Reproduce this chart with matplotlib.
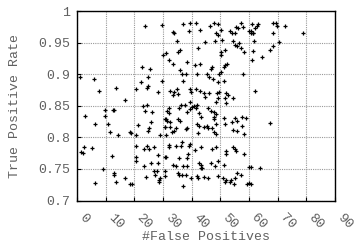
import matplotlib
matplotlib.use("Agg")
import matplotlib.pyplot as plt

# points (false positives, true positive rate)
fp = [
    23.8, 29.7, 30.0, 22.6, 25.3, 0.9, 6.0, 24.9, 22.2, 29.7, 7.6, 13.5, 20.6, 24.4, 24.8,
    28.3, 16.9, 22.9, 24.4,
    23.8, 26.2, 9.9, 12.6, 12.8, 2.9, 9.9, 30.8, 6.4, 10.8, 21.3, 25.8, 25.2, 24.7, 30.7,
    11.4, 14.3, 18.6, 18.8, 20.5, 29.1, 30.9, 2.3, 5.2, 1.4, 2.0, 20.6, 24.4, 23.3, 25.0,
    26.7, 12.3, 20.6, 20.5, 30.8, 28.3, 23.3, 25.9, 28.4, 9.1, 12.8, 12.9, 26.7, 27.9,
    30.8, 24.0, 27.1, 29.1, 28.6, 28.7, 16.9, 13.6, 6.2, 18.4, 19.3, 30.8,
    33.4, 33.7, 37.0, 39.3, 41.6, 39.1, 42.8, 46.3, 47.8, 49.3, 48.6, 49.0, 50.1, 53.3,
    54.2, 55.1, 55.6, 56.2, 57.1, 57.9, 60.0, 60.6, 34.8, 44.5, 48.0, 50.7, 54.4, 55.1,
    55.8, 56.5, 57.1, 58.3, 31.0, 35.8, 35.2, 42.3, 51.6, 50.1, 50.3, 32.0, 33.3, 38.3,
    41.2, 42.8, 52.2, 51.7, 51.3, 50.2, 49.5, 46.9, 46.6, 35.9, 36.7, 37.9, 57.9, 45.2,
    46.0, 42.0, 37.1, 47.4, 49.0, 51.3, 35.0, 32.3, 33.8, 33.3, 35.2, 39.4, 39.9, 41.6,
    42.9, 44.3, 46.1, 44.5, 48.7, 49.5, 49.2, 51.9, 52.5, 51.6, 54.5, 39.4, 48.4, 37.6,
    36.2, 42.0, 51.9,
    60.9, 62.1, 62.9, 63.2, 60.7, 61.2, 61.5, 68.5, 69.3, 69.6, 72.5, 68.5, 78.7, 61.7,
    70.6, 68.3, 67.3, 61.3, 64.4, 60.9, 62.1,
    32.0, 31.3, 32.1, 35.6, 38.5, 39.3, 40.2, 40.8, 41.4, 42.6, 43.4, 46.6, 47.8, 48.4,
    47.6, 47.8, 45.8, 51.3, 55.1, 57.4, 58.8, 55.7, 54.2, 30.9, 31.5, 32.3, 35.2, 35.8,
    30.8, 32.4, 34.6, 33.8, 33.2, 37.9, 38.5, 42.0, 42.6, 44.3, 45.2, 45.8, 47.0, 48.4,
    47.8, 48.4, 42.3, 51.6, 54.4, 55.7, 57.7, 58.3, 32.1, 32.1, 34.4, 36.2, 36.7, 39.4,
    39.1, 43.1, 41.2, 47.2, 48.4, 51.9, 52.1, 54.4, 55.1, 55.3, 58.3, 30.9, 35.6, 38.5,
    38.7, 33.3, 34.6, 37.1, 38.3, 42.6, 43.1, 43.1, 43.7, 46.6, 48.1, 49.3, 51.3, 60.0,
    35.2, 35.6, 36.7, 37.9, 39.7, 42.0, 42.3, 44.3, 45.8, 49.3, 51.0, 52.1, 51.5, 53.3,
    53.6, 55.1, 54.8, 55.7, 57.3, 37.1, 59.4,
    67.3, 63.8, 60.7, 60.7, 60.0,
]
tpr = [
    0.9765, 0.9786, 0.931, 0.911, 0.909, 0.895, 0.893, 0.896, 0.887, 0.889, 0.874, 0.879,
    0.876, 0.879, 0.881, 0.872, 0.859, 0.850, 0.852,
    0.842, 0.840, 0.843, 0.843, 0.844, 0.834, 0.834, 0.829, 0.822, 0.822, 0.819, 0.825,
    0.815, 0.810, 0.817, 0.809, 0.803, 0.808, 0.807, 0.803, 0.804, 0.803, 0.784, 0.783,
    0.777, 0.775, 0.786, 0.786, 0.781, 0.782, 0.784, 0.770, 0.769, 0.763, 0.769, 0.772,
    0.755, 0.759, 0.759, 0.750, 0.743, 0.740, 0.747, 0.747, 0.747, 0.738, 0.740, 0.735,
    0.733, 0.730, 0.736, 0.730, 0.728, 0.726, 0.726, 0.739,
    0.967, 0.965, 0.980, 0.981, 0.982, 0.969, 0.970, 0.977, 0.981, 0.980, 0.965, 0.963,
    0.970, 0.968, 0.966, 0.965, 0.975, 0.974, 0.982, 0.975, 0.969, 0.965, 0.953, 0.951,
    0.953, 0.954, 0.953, 0.946, 0.945, 0.949, 0.942, 0.935, 0.934, 0.938, 0.935, 0.941,
    0.938, 0.936, 0.930, 0.922, 0.917, 0.920, 0.915, 0.917, 0.917, 0.914, 0.912, 0.904,
    0.901, 0.911, 0.908, 0.907, 0.901, 0.900, 0.901, 0.901, 0.896, 0.901, 0.890, 0.893,
    0.887, 0.889, 0.877, 0.873, 0.872, 0.867, 0.868, 0.876, 0.872, 0.876, 0.873, 0.871,
    0.871, 0.864, 0.870, 0.872, 0.863, 0.871, 0.867, 0.863, 0.862, 0.856, 0.856, 0.852,
    0.851, 0.852, 0.854,
    0.979, 0.974, 0.977, 0.980, 0.969, 0.966, 0.965, 0.981, 0.981, 0.977, 0.977, 0.966,
    0.965, 0.953, 0.951, 0.945, 0.938, 0.937, 0.928, 0.923, 0.873,
    0.847, 0.842, 0.839, 0.847, 0.841, 0.845, 0.848, 0.850, 0.847, 0.838, 0.833, 0.842,
    0.840, 0.837, 0.833, 0.829, 0.846, 0.830, 0.831, 0.833, 0.830, 0.826, 0.824, 0.829,
    0.826, 0.825, 0.829, 0.826, 0.817, 0.817, 0.815, 0.810, 0.809, 0.814, 0.815, 0.821,
    0.818, 0.816, 0.818, 0.815, 0.815, 0.821, 0.808, 0.806, 0.807, 0.821, 0.811, 0.810,
    0.818, 0.805, 0.788, 0.785, 0.786, 0.787, 0.792, 0.789, 0.786, 0.785, 0.780, 0.781,
    0.784, 0.779, 0.774, 0.785, 0.781, 0.779, 0.773, 0.769, 0.767, 0.768, 0.773, 0.757,
    0.755, 0.755, 0.755, 0.759, 0.756, 0.751, 0.752, 0.759, 0.755, 0.763, 0.756, 0.753,
    0.744, 0.740, 0.740, 0.740, 0.736, 0.739, 0.736, 0.737, 0.736, 0.739, 0.736, 0.733,
    0.729, 0.729, 0.733, 0.735, 0.726, 0.744, 0.740, 0.723, 0.726,
    0.823, 0.751, 0.753, 0.726, 0.727,
]

xticks = list(range(0, 100, 10))
yticks = [0.7, 0.75, 0.8, 0.85, 0.9, 0.95, 1.0]
ylabels = ["0.7", "0.75", "0.8", "0.85", "0.9", "0.95", "1"]

plt.rcParams['font.family'] = ['Liberation Mono', 'DejaVu Sans Mono']
gray = '#606060'

fig = plt.figure(figsize=(3.55, 2.48), dpi=100)
ax = fig.add_axes([0.217, 0.1915, 0.727, 0.7635])

ax.plot(fp, tpr, '+', color='black', markersize=3.5, markeredgewidth=0.9)

ax.set_xlim(0, 90)
ax.set_ylim(0.7, 1.0)
ax.set_xticks(xticks)
ax.set_xticklabels([str(t) for t in xticks], rotation=-45, ha='left', va='top',
                   rotation_mode='default')
ax.set_yticks(yticks)
ax.set_yticklabels(ylabels)
ax.tick_params(axis='both', direction='in', length=3, width=0.8, colors='black',
               labelcolor=gray, labelsize=9.5, pad=5)
ax.tick_params(axis='x', pad=8)
ax.grid(True, color='#999999', linestyle=(0, (1, 1)), linewidth=0.8)
for s in ax.spines.values():
    s.set_linewidth(1.0)

ax.set_xlabel('#False Positives', color=gray, fontsize=9.5, labelpad=0)
ax.set_ylabel('True Positive Rate', color=gray, fontsize=9.5, labelpad=12)

fig.savefig('out.png', dpi=100)
